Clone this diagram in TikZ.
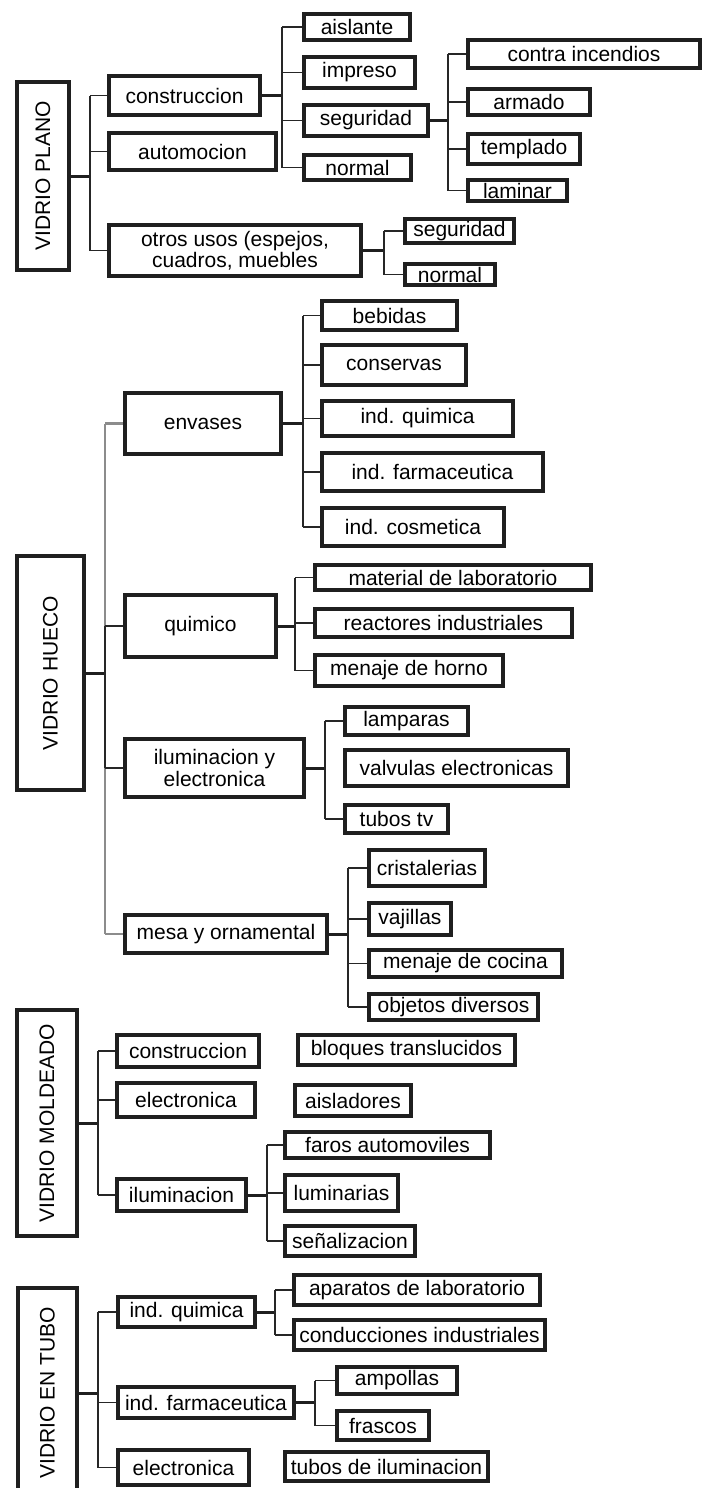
\documentclass[tikz,border=0pt]{standalone}
\usepackage{fontspec}
\setmainfont{Liberation Sans}
\newcommand\bx[6]{\node[box, minimum width={#4-#2-4}, minimum height={#5-#3-4}] (#1) at ({(#2+#4)/2},{(#3+#5)/2}) {#6};}
\newcommand\rt[6]{\node[rootbox, minimum width={#5-#3-4}, minimum height={#4-#2-4}] (#1) at ({(#2+#4)/2},{(#3+#5)/2}) {#6};}
\begin{document}
\begin{tikzpicture}[x=1pt,y=-1pt,
  box/.style={draw=black!88, line width=4pt, fill=white, inner sep=0pt, align=center,
              font=\fontsize{21}{21}\selectfont},
  rootbox/.style={box, rotate=90},
  stem/.style={draw=black!88, line width=3pt},
  br/.style={draw=black!85, line width=1.9pt},
  grayln/.style={draw=black!45, line width=2.2pt}]
\useasboundingbox (0,0) rectangle (704,1488);

% ---------------- VIDRIO PLANO ----------------
\rt{plano}{15}{80}{71}{272}{VIDRIO PLANO}
\bx{cons1}{107}{74}{262}{117}{construccion}
\bx{auto1}{107}{131}{278}{172}{automocion}
\bx{otros}{107}{223}{363}{278}{otros usos (espejos,\\cuadros, muebles}
\bx{aisl}{302}{12}{412}{42}{aislante}
\bx{impr}{302}{55}{417}{90}{impreso}
\bx{segu1}{302}{103}{430}{138}{seguridad}
\bx{norm1}{302}{153}{413}{182}{normal}
\bx{contra}{466}{38}{702}{70}{contra incendios}
\bx{armado}{466}{87}{592}{117}{armado}
\bx{templ}{466}{132}{582}{166}{templado}
\bx{lamin}{466}{178}{569}{203}{laminar}
\bx{segu2}{403}{217}{516}{245}{seguridad}
\bx{norm2}{403}{262}{497}{287}{normal}

\coordinate (p0) at (90,0);
\coordinate (p1) at (282,0);
\coordinate (p2) at (448,0);
\coordinate (p3) at (384,0);
\draw[stem] (plano.south) -- (plano.south -| p0);
\draw[br] (p0 |- cons1.west) -- (p0 |- otros.west);
\foreach \c in {cons1,auto1,otros} \draw[br] (p0 |- \c.west) -- (\c.west);
\draw[stem] (cons1.east) -- (cons1.east -| p1);
\draw[br] (p1 |- aisl.west) -- (p1 |- norm1.west);
\foreach \c in {aisl,impr,segu1,norm1} \draw[br] (p1 |- \c.west) -- (\c.west);
\draw[stem] (segu1.east) -- (segu1.east -| p2);
\draw[br] (p2 |- contra.west) -- (p2 |- lamin.west);
\foreach \c in {contra,armado,templ,lamin} \draw[br] (p2 |- \c.west) -- (\c.west);
\draw[stem] (otros.east) -- (otros.east -| p3);
\draw[br] (p3 |- segu2.west) -- (p3 |- norm2.west);
\foreach \c in {segu2,norm2} \draw[br] (p3 |- \c.west) -- (\c.west);

% ---------------- VIDRIO HUECO ----------------
\rt{hueco}{15}{554}{86}{792}{VIDRIO HUECO}
\bx{env}{123}{391}{283}{456}{envases}
\bx{quim}{123}{593}{278}{659}{quimico}
\bx{ilum}{123}{737}{306}{799}{iluminacion y\\[1pt]electronica}
\bx{mesa}{123}{913}{329}{955}{mesa y ornamental}
\bx{bebidas}{320}{299}{459}{332}{bebidas}
\bx{conserv}{320}{343}{468}{387}{conservas}
\bx{indq}{320}{399}{515}{438}{ind. quimica}
\bx{indf}{320}{451}{545}{493}{ind. farmaceutica}
\bx{indc}{320}{506}{506}{548}{ind. cosmetica}
\bx{matlab}{313}{563}{593}{592}{material de laboratorio}
\bx{react}{313}{607}{574}{639}{reactores industriales}
\bx{menh}{313}{653}{505}{688}{menaje de horno}
\bx{lamp}{343}{705}{470}{737}{lamparas}
\bx{valv}{343}{748}{570}{788}{valvulas electronicas}
\bx{tubtv}{343}{803}{450}{835}{tubos tv}
\bx{crist}{367}{848}{487}{888}{cristalerias}
\bx{vaj}{367}{901}{453}{937}{vajillas}
\bx{menc}{367}{948}{564}{979}{menaje de cocina}
\bx{objd}{367}{992}{540}{1022}{objetos diversos}

\coordinate (h0) at (105,0);
\coordinate (h1) at (303,0);
\coordinate (h2) at (295,0);
\coordinate (h3) at (325,0);
\coordinate (h4) at (348,0);
\draw[stem] (hueco.south) -- (hueco.south -| h0);
\draw[grayln] (h0 |- env.west) -- (h0 |- quim.west);
\draw[br] (h0 |- quim.west) -- (h0 |- ilum.west);
\draw[grayln] (h0 |- ilum.west) -- (h0 |- mesa.west);
\draw[grayln] (h0 |- env.west) -- (env.west);
\draw[br] (h0 |- quim.west) -- (quim.west);
\draw[br] (h0 |- ilum.west) -- (ilum.west);
\draw[grayln] (h0 |- mesa.west) -- (mesa.west);
\draw[stem] (env.east) -- (env.east -| h1);
\draw[br] (h1 |- bebidas.west) -- (h1 |- indc.west);
\foreach \c in {bebidas,conserv,indq,indf,indc} \draw[br] (h1 |- \c.west) -- (\c.west);
\draw[stem] (quim.east) -- (quim.east -| h2);
\draw[br] (h2 |- matlab.west) -- (h2 |- menh.west);
\foreach \c in {matlab,react,menh} \draw[br] (h2 |- \c.west) -- (\c.west);
\draw[stem] (ilum.east) -- (ilum.east -| h3);
\draw[br] (h3 |- lamp.west) -- (h3 |- tubtv.west);
\foreach \c in {lamp,tubtv} \draw[br] (h3 |- \c.west) -- (\c.west);
\draw[stem] (mesa.east) -- (mesa.east -| h4);
\draw[br] (h4 |- crist.west) -- (h4 |- objd.west);
\foreach \c in {crist,vaj,menc,objd} \draw[br] (h4 |- \c.west) -- (\c.west);

% ---------------- VIDRIO MOLDEADO ----------------
\rt{mold}{15}{1008}{79}{1238}{VIDRIO MOLDEADO}
\bx{cons2}{115}{1033}{261}{1069}{construccion}
\bx{elec2}{115}{1081}{257}{1119}{electronica}
\bx{ilum2}{115}{1177}{248}{1213}{iluminacion}
\bx{bloq}{296}{1033}{517}{1067}{bloques translucidos}
\bx{aislad}{293}{1083}{413}{1118}{aisladores}
\bx{faros}{283}{1130}{492}{1160}{faros automoviles}
\bx{lumin}{283}{1173}{400}{1213}{luminarias}
\bx{senal}{283}{1224}{417}{1258}{señalizacion}

\coordinate (m0) at (98,0);
\coordinate (m1) at (267,0);
\draw[stem] (mold.south) -- (mold.south -| m0);
\draw[br] (m0 |- cons2.west) -- (m0 |- ilum2.west);
\foreach \c in {cons2,elec2,ilum2} \draw[br] (m0 |- \c.west) -- (\c.west);
\draw[stem] (ilum2.east) -- (ilum2.east -| m1);
\draw[br] (m1 |- faros.west) -- (m1 |- senal.west);
\foreach \c in {faros,lumin,senal} \draw[br] (m1 |- \c.west) -- (\c.west);

% ---------------- VIDRIO EN TUBO ----------------
\rt{tubo}{16}{1286}{79}{1500}{VIDRIO EN TUBO}
\bx{indq2}{116}{1295}{257}{1329}{ind. quimica}
\bx{indf2}{116}{1385}{296}{1420}{ind. farmaceutica}
\bx{elec3}{116}{1448}{251}{1487}{electronica}
\bx{apar}{292}{1273}{542}{1307}{aparatos de laboratorio}
\bx{cond}{292}{1318}{547}{1352}{conducciones industriales}
\bx{amp}{335}{1365}{459}{1396}{ampollas}
\bx{frasc}{335}{1409}{431}{1442}{frascos}
\bx{tubil}{283}{1450}{490}{1483}{tubos de iluminacion}

\coordinate (t0) at (98,0);
\coordinate (t1) at (275,0);
\coordinate (t2) at (315,0);
\draw[stem] (tubo.south) -- (tubo.south -| t0);
\draw[br] (t0 |- indq2.west) -- (t0 |- elec3.west);
\foreach \c in {indq2,indf2,elec3} \draw[br] (t0 |- \c.west) -- (\c.west);
\draw[stem] (indq2.east) -- (indq2.east -| t1);
\draw[br] (t1 |- apar.west) -- (t1 |- cond.west);
\foreach \c in {apar,cond} \draw[br] (t1 |- \c.west) -- (\c.west);
\draw[stem] (indf2.east) -- (indf2.east -| t2);
\draw[br] (t2 |- amp.west) -- (t2 |- frasc.west);
\foreach \c in {amp,frasc} \draw[br] (t2 |- \c.west) -- (\c.west);
\end{tikzpicture}
\end{document}
